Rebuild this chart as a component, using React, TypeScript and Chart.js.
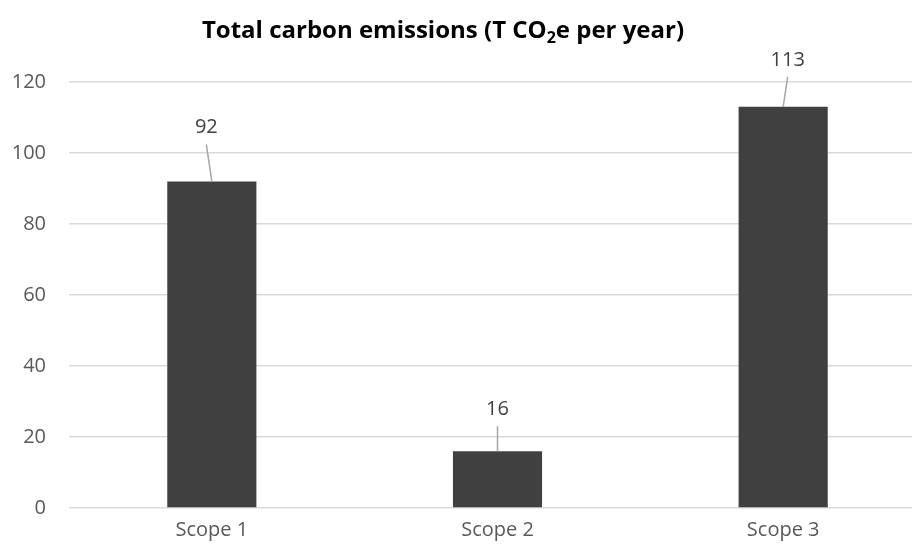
import React, { useEffect, useRef } from "react";
import { Chart, registerables } from "chart.js";

Chart.register(...registerables);

const categories = ["Scope 1", "Scope 2", "Scope 3"];
const emissions = [92, 16, 113];
const yTicks = [0, 20, 40, 60, 80, 100, 120];
const titleParts = ["Total carbon emissions (T CO", "2", "e per year)"];

// label placement relative to bar top (pixels), styling only
const labelOffsets = [
  { dx: -5.5, dy: -54 },
  { dx: 0, dy: -42 },
  { dx: 4.5, dy: -47 },
];

const FONT = "'Open Sans', 'DejaVu Sans', sans-serif";

const labelPlugin = {
  id: "leaderLabels",
  afterDatasetsDraw(chart: any) {
    const ctx = chart.ctx;
    const meta = chart.getDatasetMeta(0);
    const data = chart.data.datasets[0].data as number[];
    ctx.save();
    meta.data.forEach((bar: any, i: number) => {
      const off = labelOffsets[i] || { dx: 0, dy: -40 };
      const tx = bar.x + off.dx;
      const ty = bar.y + off.dy;
      ctx.strokeStyle = "#a6a6a6";
      ctx.lineWidth = 1.5;
      ctx.beginPath();
      ctx.moveTo(tx, ty + 17);
      ctx.lineTo(bar.x, bar.y);
      ctx.stroke();
      ctx.fillStyle = "#404040";
      ctx.font = `20px ${FONT}`;
      ctx.textAlign = "center";
      ctx.textBaseline = "middle";
      ctx.fillText(String(data[i]), tx, ty);
    });
    ctx.restore();
  },
};

const titlePlugin = {
  id: "subTitle",
  afterDraw(chart: any) {
    const ctx = chart.ctx;
    ctx.save();
    const big = `bold 24px ${FONT}`;
    const small = `bold 16px ${FONT}`;
    ctx.font = big;
    const w0 = ctx.measureText(titleParts[0]).width;
    const w2 = ctx.measureText(titleParts[2]).width;
    ctx.font = small;
    const w1 = ctx.measureText(titleParts[1]).width;
    const total = w0 + w1 + w2;
    const cx = 443;
    const baseY = 38;
    let x = cx - total / 2;
    ctx.fillStyle = "#000000";
    ctx.textBaseline = "alphabetic";
    ctx.textAlign = "left";
    ctx.font = big;
    ctx.fillText(titleParts[0], x, baseY);
    x += w0;
    ctx.font = small;
    ctx.fillText(titleParts[1], x, baseY + 5);
    x += w1;
    ctx.font = big;
    ctx.fillText(titleParts[2], x, baseY);
    ctx.restore();
  },
};

export default function App() {
  const canvasRef = useRef<HTMLCanvasElement | null>(null);

  useEffect(() => {
    const canvas = canvasRef.current;
    if (!canvas) return;
    const chart = new Chart(canvas, {
      type: "bar",
      data: {
        labels: categories,
        datasets: [
          {
            data: emissions,
            backgroundColor: "#404040",
            borderWidth: 0,
            barPercentage: 0.312,
            categoryPercentage: 1,
          },
        ],
      },
      options: {
        responsive: false,
        animation: false,
        devicePixelRatio: 1,
        layout: { padding: { top: 82, right: 14, left: 0, bottom: 0 } },
        plugins: {
          legend: { display: false },
          title: { display: false },
          tooltip: { enabled: false },
        },
        scales: {
          y: {
            min: yTicks[0],
            max: yTicks[yTicks.length - 1],
            afterBuildTicks: (scale: any) => {
              scale.ticks = yTicks.map((v) => ({ value: v }));
            },
            afterFit: (scale: any) => {
              scale.width = 69;
            },
            ticks: {
              color: "#595959",
              font: { family: FONT, size: 20 },
              padding: 23,
            },
            grid: { color: "#d9d9d9", lineWidth: 1.5, drawTicks: false },
            border: { display: false },
          },
          x: {
            afterFit: (scale: any) => {
              scale.height = 40;
            },
            ticks: {
              color: "#595959",
              font: { family: FONT, size: 20 },
              padding: 10,
            },
            grid: { display: false, drawTicks: false },
            border: { display: false },
          },
        },
      },
      plugins: [labelPlugin, titlePlugin],
    } as any);
    return () => chart.destroy();
  }, []);

  return (
    <div
      style={{
        position: "absolute",
        left: 0,
        top: 0,
        width: 912,
        height: 548,
        overflow: "hidden",
        background: "#ffffff",
      }}
    >
      <canvas
        ref={canvasRef}
        width={940}
        height={548}
        style={{ display: "block", width: 940, height: 548 }}
      />
    </div>
  );
}
